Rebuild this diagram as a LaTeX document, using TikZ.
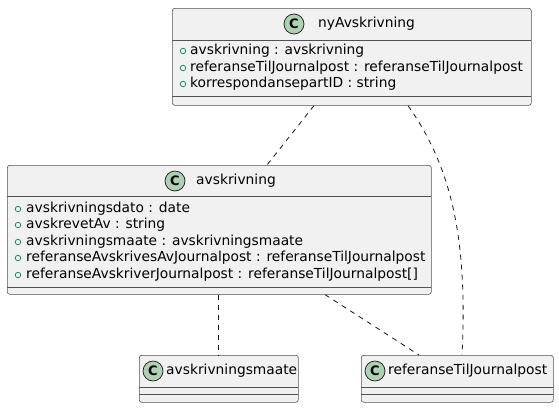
\documentclass[tikz,border=0pt]{standalone}
\usepackage{fontspec}
\setmainfont{DejaVu Sans}
\usetikzlibrary{calc}
\definecolor{boxfill}{HTML}{F1F1F1}
\definecolor{boxline}{HTML}{181818}
\definecolor{iconfill}{HTML}{ADD1B2}
\definecolor{publine}{HTML}{038048}
\begin{document}
\begin{tikzpicture}[x=1pt,y=-1pt,
  classbox/.style={draw=boxline!75, fill=boxfill, rounded corners=2.5pt, line width=0.6pt, inner sep=0pt, anchor=north west},
  sepline/.style={draw=boxline!75, line width=0.6pt},
  icon/.style={circle, draw=boxline, fill=iconfill, line width=0.7pt, minimum size=20pt, inner sep=0pt, font=\fontsize{13}{13}\selectfont\bfseries},
  title/.style={anchor=west, inner sep=0pt, font=\fontsize{13.8}{15}\selectfont},
  attr/.style={anchor=west, inner sep=0pt, font=\fontsize{13.8}{15}\selectfont},
  pub/.style={circle, draw=publine, line width=0.7pt, minimum size=5.5pt, inner sep=0pt},
  dep/.style={draw=boxline, line width=0.8pt, dash pattern=on 5pt off 5pt}
]
\path[fill=white] (0,0) rectangle (559,408);
\useasboundingbox (0,0) rectangle (559,408);

% nyAvskrivning
\node[classbox, minimum width=359pt, minimum height=97pt] (ny) at (172,8) {};
\draw[sepline] (172,40) -- (531,40);
\draw[sepline] (172,96.5) -- (531,96.5);
\node[icon] (nyi) at (294,24) {C};
\node[title] (nyt) at (318,24) {nyAvskrivning};
\node[pub] (nyp1) at (183,51) {};
\node[attr] (nya1) at (190,51) {avskrivning : avskrivning};
\node[pub] (nyp2) at (183,68) {};
\node[attr] (nya2) at (190,68) {referanseTilJournalpost : referanseTilJournalpost};
\node[pub] (nyp3) at (183,84) {};
\node[attr] (nya3) at (190,84) {korrespondansepartID : string};

% avskrivning
\node[classbox, minimum width=424pt, minimum height=129pt] (av) at (7,165) {};
\draw[sepline] (7,196) -- (431,196);
\draw[sepline] (7,287) -- (431,287);
\node[icon] (avi) at (175,181) {C};
\node[title] (avt) at (196,181) {avskrivning};
\node[pub] (avp1) at (18,209) {};
\node[attr] (ava1) at (26,209) {avskrivningsdato : date};
\node[pub] (avp2) at (18,225) {};
\node[attr] (ava2) at (26,225) {avskrevetAv : string};
\node[pub] (avp3) at (18,242) {};
\node[attr] (ava3) at (26,242) {avskrivningsmaate : avskrivningsmaate};
\node[pub] (avp4) at (18,258) {};
\node[attr] (ava4) at (26,258) {referanseAvskrivesAvJournalpost : referanseTilJournalpost};
\node[pub] (avp5) at (18,275) {};
\node[attr] (ava5) at (26,275) {referanseAvskriverJournalpost : referanseTilJournalpost[]};

% avskrivningsmaate
\node[classbox, minimum width=159pt, minimum height=47pt] (ma) at (139,355) {};
\draw[sepline] (139,387) -- (298,387);
\draw[sepline] (139,394.5) -- (298,394.5);
\node[icon] (mai) at (153,371) {C};
\node[title] (mat) at (166,371) {avskrivningsmaate};

% referanseTilJournalpost
\node[classbox, minimum width=192pt, minimum height=47pt] (ref) at (361,355) {};
\draw[sepline] (361,387) -- (553,387);
\draw[sepline] (361,394.5) -- (553,394.5);
\node[icon] (refi) at (375,371) {C};
\node[title] (reft) at (388,371) {referanseTilJournalpost};

% connectors
\draw[dep] ($(ny.south west)+(142,0)$) -- ($(av.north west)+(260,0)$);
\draw[dep] ($(ny.south west)+(236,0)$) .. controls (450,165) and (468,235) .. ($(ref.north west)+(101,0)$);
\draw[dep] ($(av.south west)+(211,0)$) -- ($(ma.north west)+(79,0)$);
\draw[dep] ($(av.south west)+(318,0)$) -- ($(ref.north west)+(58,0)$);
\end{tikzpicture}
\end{document}
